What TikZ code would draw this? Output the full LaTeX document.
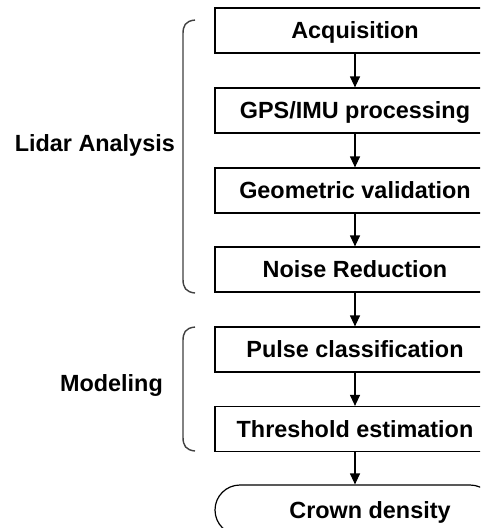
\documentclass[tikz,border=0pt]{standalone}
\usepackage{fontspec}
\setmainfont{Liberation Sans}
\usetikzlibrary{arrows.meta}
\begin{document}
\begin{tikzpicture}[x=1pt,y=-1pt,
  stepbox/.style={draw=black,line width=1.2pt,minimum width=280pt,minimum height=45pt,
    inner sep=0pt,text height=16.8pt,text depth=0pt,font=\fontsize{23.4}{26}\selectfont\bfseries},
  termbox/.style={stepbox,rounded corners=25pt,minimum height=50pt},
  flow/.style={line width=1.2pt,-{Triangle[width=10pt,length=11pt]}},
  bracket/.style={line width=1.4pt,draw=black!75},
  grouplabel/.style={anchor=base east,inner sep=0pt,font=\fontsize{23.4}{26}\selectfont\bfseries}]
\useasboundingbox (0,0) rectangle (480,528);
\clip (0,0) rectangle (480,528);
\fill[white] (0,0) rectangle (480,528);
\node[stepbox] (acq) at (355,30.5) {Acquisition};
\node[stepbox] (gps) at (355,110.5) {GPS/IMU processing};
\node[stepbox] (geo) at (355,190.5) {Geometric validation};
\node[stepbox] (noise) at (355,269.5) {Noise Reduction};
\node[stepbox] (pulse) at (355,349.5) {Pulse classification};
\node[stepbox] (thr) at (355,429) {Threshold estimation};
\node[termbox] (crown) at (355,510) {\hspace*{30pt}Crown density};
\draw[flow] (acq) -- (gps);
\draw[flow] (gps) -- (geo);
\draw[flow] (geo) -- (noise);
\draw[flow] (noise) -- (pulse);
\draw[flow] (pulse) -- (thr);
\draw[flow] (thr) -- (crown);
\draw[bracket] (195,20) .. controls (185,21) and (183,26) .. (183,34) -- (183,279) .. controls (183,288) and (186,292) .. (195,293);
\draw[bracket] (195,327) .. controls (185,328) and (183,333) .. (183,341) -- (183,437) .. controls (183,446) and (186,450) .. (195,451);
\node[grouplabel] (lidar) at (175,151) {Lidar Analysis};
\node[grouplabel] (model) at (163,391) {Modeling};
\end{tikzpicture}
\end{document}
